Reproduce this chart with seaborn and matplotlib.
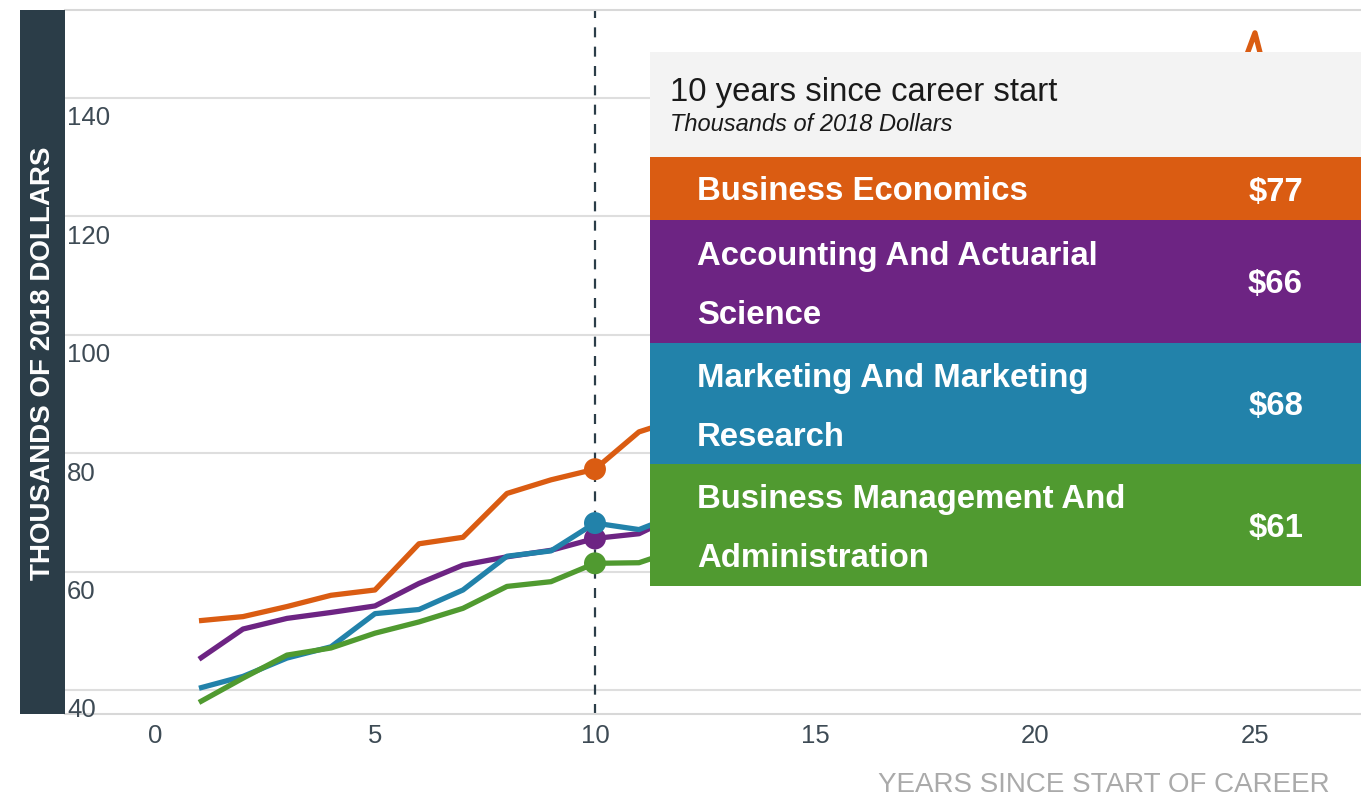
import matplotlib
matplotlib.use("Agg")
import matplotlib.pyplot as plt
from matplotlib.patches import Rectangle
import pandas as pd
import seaborn as sns

# ---- data (thousands of 2018 dollars, by years since career start) ----
years = list(range(1, 27))
business_econ = [51.7, 52.4, 54.1, 56.0, 56.9, 64.7, 65.8, 73.2, 75.5, 77.3, 83.6,
                 86, 90, 94, 98, 102, 106, 110, 114, 118, 121, 125, 128, 131, 151, 122]
accounting = [45.2, 50.3, 52.1, 53.1, 54.2, 58.0, 61.1, 62.5, 63.6, 65.6, 66.4,
              70, 73, 76, 79, 82, 85, 88, 90, 92, 95, 97, 99, 101, 103, 104]
marketing = [40.3, 42.3, 45.4, 47.3, 52.9, 53.6, 56.9, 62.6, 63.5, 68.2, 67.1,
             70, 73, 76, 79, 82, 85, 87, 89, 91, 94, 96, 98, 100, 102, 103]
management = [37.9, 42.0, 45.9, 47.1, 49.6, 51.5, 53.8, 57.5, 58.3, 61.4, 61.5,
              64, 66, 69, 71, 73, 75, 77, 79, 81, 83, 85, 86, 87, 88, 89]

majors = ["Business Economics", "Accounting And Actuarial Science",
          "Marketing And Marketing Research", "Business Management And Administration"]
# how the names wrap inside the tooltip box
major_lines = [["Business Economics"],
               ["Accounting And Actuarial", "Science"],
               ["Marketing And Marketing", "Research"],
               ["Business Management And", "Administration"]]
colors = ["#DA5C12", "#6D2483", "#2282AA", "#509A30"]
series = [business_econ, accounting, marketing, management]

x_ticks = [0, 5, 10, 15, 20, 25]
y_ticks = [40, 60, 80, 100, 120, 140]
focus_year = 10

W, H = 1361, 798
DARK = "#2B3D48"
TICK_COLOR = "#3E4B55"

df = pd.concat(
    [pd.DataFrame({"year": years, "value": vals, "major": name})
     for name, vals in zip(majors, series)],
    ignore_index=True,
)
palette = dict(zip(majors, colors))

sns.set_theme(style="white")
plt.rcParams["font.family"] = ["Liberation Sans", "DejaVu Sans"]

fig = plt.figure(figsize=(W / 100, H / 100), dpi=100)
ax = fig.add_axes([65 / W, 1 - 714 / H, 1 - 65 / W, (714 - 10) / H])


def fpx(x, y):
    """pixel (from top-left) -> figure fraction"""
    return x / W, 1 - y / H


# gridlines
for v in y_ticks:
    ax.axhline(v, color="#DEDEDE", lw=1.5, zorder=0)

sns.lineplot(data=df, x="year", y="value", hue="major", hue_order=majors,
             palette=palette, linewidth=3.8, legend=False, ax=ax,
             solid_joinstyle="round", solid_capstyle="butt", zorder=3)

ax.axvline(focus_year, color=DARK, lw=1.6, dashes=(4.5, 4.2), zorder=2)

focus = df[df["year"] == focus_year]
sns.scatterplot(data=focus, x="year", y="value", hue="major", hue_order=majors,
                palette=palette, s=250, edgecolor="none", legend=False, ax=ax,
                zorder=4)

ax.set_xlim(-2.045, 27.41)
ax.set_ylim(35.95, 154.86)
ax.set_xticks(x_ticks)
ax.set_xticklabels([str(t) for t in x_ticks])
ax.set_yticks([])
ax.tick_params(axis="x", length=0, pad=7, labelsize=18.5, labelcolor=TICK_COLOR)
ax.set_xlabel("")
ax.set_ylabel("")

for side in ["left", "right"]:
    ax.spines[side].set_visible(False)
for side in ["top", "bottom"]:
    ax.spines[side].set_color("#D8D8D8")
    ax.spines[side].set_linewidth(1.5)

# y labels sit inside the plot, just under each gridline
for v in y_ticks:
    ax.annotate(str(v), xy=(0, v), xycoords=ax.get_yaxis_transform(),
                xytext=(1.5, -6), textcoords="offset points", ha="left", va="top",
                fontsize=18.5, color=TICK_COLOR, annotation_clip=False)

# dark band with the y-axis title
x0, y0 = fpx(20, 714)
fig.add_artist(Rectangle((x0, y0), 45 / W, 704 / H, transform=fig.transFigure,
                         facecolor=DARK, edgecolor="none", zorder=5))
fig.text(*fpx(43, 363), "THOUSANDS OF 2018 DOLLARS", rotation=90, ha="center",
         va="center", color="white", fontsize=20, fontweight="bold", zorder=6)

fig.text(*fpx(1330, 785), "YEARS SINCE START OF CAREER", ha="right", va="center",
         color="#AAAAAA", fontsize=20)

# tooltip box
box_left = 650
header_top, header_bottom = 52, 157
row_edges = [157, 220, 343, 464, 586]

bx, by = fpx(box_left, header_bottom)
fig.add_artist(Rectangle((bx, by), (W - box_left) / W, (header_bottom - header_top) / H,
                         transform=fig.transFigure, facecolor="#F3F3F3",
                         edgecolor="none", zorder=5))
fig.text(*fpx(670, 89), f"{focus_year} years since career start", ha="left",
         va="center_baseline", fontsize=23.7, color="#1A1A1A", zorder=6)
fig.text(*fpx(670, 122), "Thousands of 2018 Dollars", ha="left", va="center_baseline",
         fontsize=17, style="italic", color="#1A1A1A", zorder=6)

for i, (lines, col, vals) in enumerate(zip(major_lines, colors, series)):
    top, bottom = row_edges[i], row_edges[i + 1]
    rx, ry = fpx(box_left, bottom)
    fig.add_artist(Rectangle((rx, ry), (W - box_left) / W, (bottom - top) / H,
                             transform=fig.transFigure, facecolor=col,
                             edgecolor="none", zorder=5))
    mid = (top + bottom) / 2
    offsets = [0] if len(lines) == 1 else [-29, 30]
    for line, off in zip(lines, offsets):
        fig.text(*fpx(697, mid + off), line, ha="left", va="center_baseline",
                 fontsize=23.7, fontweight="bold", color="white", zorder=6)
    value = vals[years.index(focus_year)]
    fig.text(*fpx(1303, mid), f"${round(value)}", ha="right", va="center_baseline",
             fontsize=23.7, fontweight="bold", color="white", zorder=6)

fig.savefig("out.png", dpi=100)
